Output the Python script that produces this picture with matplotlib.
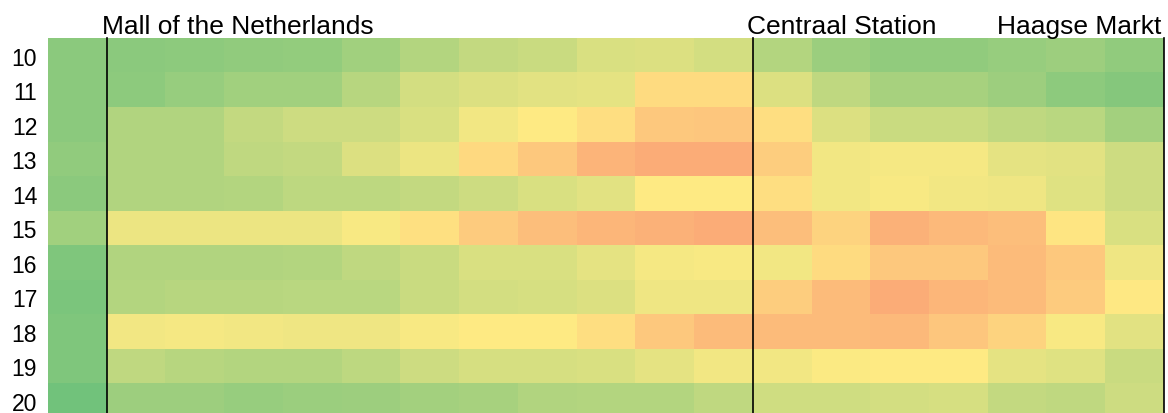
import matplotlib.pyplot as plt
from matplotlib.colors import LinearSegmentedColormap

# hours of the day (rows) and crowd level per stop (0 = quiet, 100 = very busy)
hours = [10, 11, 12, 13, 14, 15, 16, 17, 18, 19, 20]
n_stops = 19

drukte = [
    [13, 13, 14, 15, 16, 20, 26, 31, 33, 38, 39, 36, 26, 18, 15, 15, 17, 19, 15],
    [13, 14, 17, 20, 20, 27, 36, 39, 41, 42, 56, 56, 39, 30, 22, 22, 19, 14, 11],
    [13, 25, 25, 31, 34, 34, 38, 46, 50, 55, 63, 64, 55, 39, 33, 33, 30, 28, 21],
    [15, 25, 25, 30, 31, 39, 44, 57, 63, 71, 74, 74, 61, 46, 47, 47, 42, 41, 34],
    [13, 25, 25, 26, 29, 29, 31, 34, 38, 41, 50, 50, 55, 46, 48, 46, 45, 40, 34],
    [20, 44, 44, 44, 44, 48, 54, 62, 67, 70, 72, 74, 67, 59, 72, 69, 67, 52, 38],
    [9, 25, 25, 25, 26, 30, 33, 38, 38, 42, 47, 48, 46, 56, 63, 63, 68, 63, 45],
    [8, 26, 27, 27, 28, 28, 33, 36, 37, 39, 45, 45, 61, 68, 74, 70, 68, 62, 51],
    [9, 46, 47, 46, 45, 45, 48, 50, 50, 55, 63, 68, 68, 68, 69, 64, 59, 48, 41],
    [9, 30, 27, 26, 26, 29, 34, 37, 37, 38, 42, 46, 46, 49, 50, 50, 42, 40, 33],
    [5, 19, 19, 17, 18, 19, 21, 22, 25, 26, 26, 30, 35, 35, 36, 37, 31, 30, 34],
]

# named stops: label text and the stop boundary it belongs to
stop_names = ['Mall of the Netherlands', 'Centraal Station', 'Haagse Markt']
stop_edges = [1, 12, 19]

# excel-like green / yellow / red colour scale
cmap = LinearSegmentedColormap.from_list('drukte', ['#63BE7B', '#FFEB84', '#F8696B'])

plt.rcParams['font.family'] = ['Liberation Sans', 'DejaVu Sans']

fig = plt.figure(figsize=(11.68, 4.14), dpi=100)
ax = fig.add_axes([0.0414, -0.0121, 0.9549, 0.9167])

ax.imshow(drukte, cmap=cmap, vmin=0, vmax=100, aspect='auto', interpolation='nearest')

for edge in stop_edges:
    ax.axvline(edge - 0.5, color='black', lw=1.2, clip_on=False)

for name, edge in zip(stop_names, stop_edges):
    if edge == n_stops:
        ax.annotate(name, (edge - 0.5, -0.5), xytext=(-2, 4), textcoords='offset points',
                    ha='right', va='baseline', fontsize=19)
    else:
        ax.annotate(name, (edge - 0.5, -0.5), xytext=(-4, 4), textcoords='offset points',
                    ha='left', va='baseline', fontsize=19)

ax.set_yticks(range(len(hours)))
ax.set_yticklabels(hours, fontsize=16.5)
ax.set_xticks([])
ax.tick_params(axis='y', length=0, pad=8)
for s in ax.spines.values():
    s.set_visible(False)

fig.savefig('out.png', dpi=100)
